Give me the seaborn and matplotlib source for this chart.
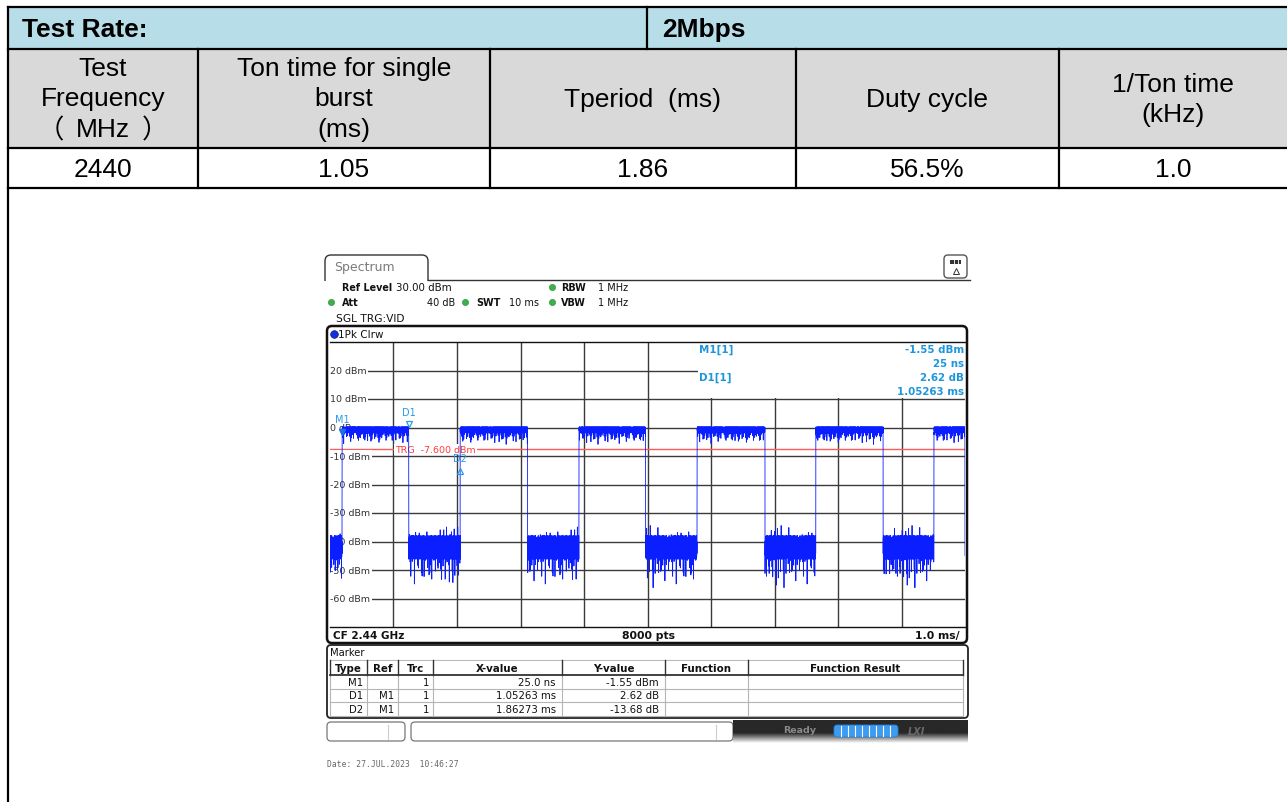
import numpy as np
import pandas as pd
import matplotlib
matplotlib.use("Agg")
import matplotlib.pyplot as plt
from matplotlib.patches import Rectangle, FancyBboxPatch
import seaborn as sns

# ---------------- summary table ----------------
rate_label = "Test Rate:"
rate_value = "2Mbps"
header_lines = [
    ["Test", "Frequency", "（MHz）"],
    ["Ton time for single", "burst", "(ms)"],
    ["Tperiod  (ms)"],
    ["Duty cycle"],
    ["1/Ton time", "(kHz)"],
]
result_cells = ["2440", "1.05", "1.86", "56.5%", "1.0"]

# ---------------- analyzer settings ----------------
ref_level_dbm = 30.0
db_range = 100.0
sweep_ms = 10.0
n_points = 8000
cf_text = "CF 2.44 GHz"
trg_level_dbm = -7.6
trigger_offset_ms = 0.19

# burst edges along the sweep (ms)
burst_on_ms = [0.19, 2.05, 3.92, 5.78, 7.65, 9.51]
burst_off_ms = [1.24, 3.11, 4.97, 6.85, 8.71, 10.0]

# transmit level ripple and dips (dBm / dB)
on_ripple_dbm = [0.3, -0.9, -0.2, -1.6, -0.5, 0.1, -1.2, -0.7, -0.1, -1.9, -0.4, -1.0, 0.2]
on_dip_period = 89
on_dip_index = [4, 17, 29, 44, 58, 71, 83]
on_dip_db = [-2.6, -1.5, -3.4, -2.0, -1.2, -2.9, -4.0]

# idle noise floor (dBm / dB)
off_ripple_dbm = [-38.6, -44.4, -40.5, -45.8, -42.1, -37.9, -43.2, -46.2, -39.8,
                  -44.9, -41.3, -38.4, -45.3, -42.6, -40.1, -44.2, -41.0]
off_spike_period = 97
off_spike_index = [3, 12, 21, 30, 39, 48, 57, 66, 75, 84, 93]
off_spike_db = [-5.0, 3.0, -7.0, 2.5, -4.0, -8.0, 3.5, -6.0, 2.0, -5.5, -10.0]

# markers: M1 absolute, D1/D2 relative to M1
marker_names = ["M1", "D1", "D2"]
marker_ref = ["", "M1", "M1"]
marker_x_ms = [25.0e-6, 1.05263, 1.86273]
marker_y = [-1.55, 2.62, -13.68]

# ---------------- figure ----------------
W, H = 1287, 803
fig = plt.figure(figsize=(W / 100, H / 100), dpi=100)
bg = fig.add_axes([0, 0, 1, 1])
bg.set_xlim(0, W)
bg.set_ylim(H, 0)
bg.axis("off")

TAB_FONT = ["Liberation Sans", "Noto Sans CJK SC"]
CJK_FONT = ["Noto Sans CJK SC"]
SA_FONT = "DejaVu Sans"

# table backgrounds
col_x = [8, 198, 490, 796, 1059, 1287]
row_y = [8, 50, 149, 189]
bg.add_patch(Rectangle((8, 8), W - 8, 42, facecolor="#B7DDE8", edgecolor="none"))
bg.add_patch(Rectangle((8, 50), W - 8, 99, facecolor="#D9D9D9", edgecolor="none"))

lw_tab = 1.6
for y in row_y:
    bg.plot([8, W], [y, y], color="black", lw=lw_tab, solid_capstyle="projecting")
bg.plot([8, 8], [8, H + 5], color="black", lw=lw_tab)
bg.plot([647, 647], [8, 50], color="black", lw=lw_tab)
for x in col_x[1:-1]:
    bg.plot([x, x], [50, 189], color="black", lw=lw_tab)

bg.text(22, 30, rate_label, fontsize=19, fontweight="bold", family=TAB_FONT,
        ha="left", va="center")
bg.text(662, 30, rate_value, fontsize=19, fontweight="bold", family=TAB_FONT,
        ha="left", va="center")


def cell_line(cx, yy, s):
    """Centre one line of a table cell; full-width brackets come from the CJK face."""
    if s.startswith("（") and s.endswith("）"):
        inner = s[1:-1]
        t = bg.text(cx, yy, inner, fontsize=19, family=TAB_FONT, ha="center", va="center")
        fig.canvas.draw()
        half = t.get_window_extent().width / 2
        bg.text(cx - half - 12, yy + 1, s[0], fontsize=19, family=CJK_FONT,
                ha="right", va="center")
        bg.text(cx + half + 12, yy + 1, s[-1], fontsize=19, family=CJK_FONT,
                ha="left", va="center")
    else:
        bg.text(cx, yy, s, fontsize=19, family=TAB_FONT, ha="center", va="center")


line_pos = {1: [100], 2: [85, 115], 3: [69, 99, 130]}
for i, lines in enumerate(header_lines):
    cx = (col_x[i] + col_x[i + 1]) / 2
    for ln, yy in zip(lines, line_pos[len(lines)]):
        cell_line(cx, yy, ln)
for i, val in enumerate(result_cells):
    cx = (col_x[i] + col_x[i + 1]) / 2
    bg.text(cx, 170, val, fontsize=19, family=TAB_FONT, ha="center", va="center")

# ---------------- analyzer window chrome ----------------
# tab
bg.add_patch(FancyBboxPatch((325, 256), 103, 40, boxstyle="round,pad=0,rounding_size=6",
                            facecolor="white", edgecolor="#333333", lw=1.0, zorder=2))
bg.add_patch(Rectangle((322, 281.6), 110, 20, facecolor="white", edgecolor="none", zorder=3))
bg.plot([428, 970], [281, 281], color="#333333", lw=1.0, zorder=4)
bg.text(334, 268, "Spectrum", fontsize=9, family=SA_FONT, color="#7a7a7a",
        ha="left", va="center", zorder=5)

# icon
bg.add_patch(FancyBboxPatch((944, 256), 23, 23, boxstyle="round,pad=0,rounding_size=4",
                            facecolor="white", edgecolor="#555555", lw=1.0, zorder=4))
bg.add_patch(Rectangle((950, 261), 11, 4, facecolor="#333333", edgecolor="none", zorder=5))
for xx in (953.5, 957.5):
    bg.plot([xx, xx], [261, 265], color="white", lw=0.6, zorder=6)
bg.plot([955.5], [272], marker="^", ms=5, mfc="white", mec="#333333", mew=0.7, zorder=6)


def sa_text(x, y, s, bold=False, size=7.0, color="#111111", ha="left", z=5, **kw):
    bg.text(x, y, s, fontsize=size, family=SA_FONT, fontweight="bold" if bold else "normal",
            color=color, ha=ha, va="center", zorder=z, **kw)


def green_dot(x, y):
    bg.plot([x], [y], marker="o", ms=4.5, color="#3cb04a", mec="#2a8a36", mew=0.4, zorder=6)


# settings lines
sa_text(342, 288, "Ref Level", bold=True, size=6.9)
sa_text(396, 288, f"{ref_level_dbm:.2f} dBm", size=7.4)
green_dot(552, 288)
sa_text(561, 288, "RBW", bold=True, size=6.9)
sa_text(598, 288, "1 MHz")
green_dot(331, 303)
sa_text(342, 303, "Att", bold=True, size=6.9)
sa_text(427, 303, "40 dB")
green_dot(465, 303)
sa_text(476, 303, "SWT", bold=True, size=6.9)
sa_text(509, 303, "10 ms")
green_dot(552, 303)
sa_text(561, 303, "VBW", bold=True, size=6.9)
sa_text(598, 303, "1 MHz")
sa_text(336, 319, "SGL TRG:VID", size=7.7)

# diagram frame
bg.add_patch(FancyBboxPatch((327, 327), 640, 317, boxstyle="round,pad=0,rounding_size=5",
                            facecolor="white", edgecolor="#111111", lw=1.8, zorder=1))
bg.plot([333.5], [335], marker="o", ms=5.5, color="#1030e0", mec="#0a1a80", mew=0.5, zorder=6)
sa_text(338, 335, "1Pk Clrw", size=7.5)
sa_text(333, 636, cf_text, bold=True, size=7.5)
sa_text(648, 636, f"{n_points} pts", bold=True, ha="center", size=7.8)
sa_text(960, 636, f"{sweep_ms / 10:.1f} ms/", bold=True, ha="right", size=7.8)

# ---------------- trace axes ----------------
ax = fig.add_axes([330 / W, 1 - 628 / H, 635 / W, 285 / H])
ax.set_facecolor("none")

t = np.linspace(0.0, sweep_ms, n_points)
idx = np.arange(n_points)
on = np.zeros(n_points, dtype=bool)
for a, b in zip(burst_on_ms, burst_off_ms):
    on |= (t >= a) & (t < b)

on_dips = np.zeros(n_points)
for k, v in zip(on_dip_index, on_dip_db):
    on_dips[idx % on_dip_period == k] = v
off_spikes = np.zeros(n_points)
for k, v in zip(off_spike_index, off_spike_db):
    off_spikes[idx % off_spike_period == k] = v

on_level = np.take(on_ripple_dbm, idx % len(on_ripple_dbm)) + on_dips
off_level = np.take(off_ripple_dbm, idx % len(off_ripple_dbm)) + off_spikes
trace = pd.DataFrame({"time_ms": t, "level_dbm": np.where(on, on_level, off_level)})

grid_c = "#3a3a3a"
for k in range(1, 10):
    ax.axvline(k * sweep_ms / 10, color=grid_c, lw=1.0, zorder=1)
for lev in range(-60, 30, 10):
    ax.axhline(lev, color=grid_c, lw=1.0, zorder=1)

# readout area
ax.add_patch(Rectangle(((698 - 330) / 635, (628 - 399) / 285), 1, 1, transform=ax.transAxes,
                       facecolor="white", edgecolor="none", zorder=2))

for lev in range(20, -70, -10):
    ax.text(0.005, lev, f"{lev} dBm", fontsize=6.8, family=SA_FONT, color="#333333",
            ha="left", va="center", zorder=2.5,
            bbox=dict(boxstyle="square,pad=0.15", facecolor="white", edgecolor="none"))

ax.axhline(trg_level_dbm, color="#ff5a5a", lw=1.0, zorder=2.2)
ax.text((395 - 330) / 635 * sweep_ms, trg_level_dbm, f"TRG  {trg_level_dbm:.3f} dBm",
        fontsize=6.8, family=SA_FONT, color="#ff3b3b", ha="left", va="center", zorder=2.6,
        bbox=dict(boxstyle="square,pad=0.1", facecolor="white", edgecolor="none"))

sns.lineplot(data=trace, x="time_ms", y="level_dbm", ax=ax, estimator=None, sort=False,
             color="#0a1eff", lw=0.6, zorder=3, legend=False)

# markers
mk_color = "#2a9ae6"
m1_y = marker_y[0]
mx = [trigger_offset_ms + x for x in marker_x_ms]
my = [m1_y, m1_y + marker_y[1], m1_y + marker_y[2]]
ax.plot([mx[0]], [my[0]], marker="v", ms=5, color="#1f6fe6", zorder=5)
ax.plot([mx[1]], [my[1]], marker="v", ms=4, mfc="none", mec=mk_color, mew=0.9, zorder=5)
ax.plot([mx[2]], [my[2]], marker="^", ms=5, mfc="none", mec=mk_color, mew=0.9, zorder=5)
for name, x, y in zip(marker_names, mx, my):
    ax.annotate(name, (x, y), xytext=(0, 9), textcoords="offset points",
                fontsize=7, family=SA_FONT, color=mk_color, ha="center", va="center",
                zorder=5)

ro_font = dict(fontsize=7.4, family=SA_FONT, color="#1e96dc", fontweight="bold",
               va="center", zorder=5, transform=bg.transData)
ax.text(699, 350, "M1[1]", ha="left", **ro_font)
ax.text(964, 350, f"{marker_y[0]:.2f} dBm", ha="right", **ro_font)
ax.text(964, 364, f"{marker_x_ms[0] * 1e6:.0f} ns", ha="right", **ro_font)
ax.text(699, 378, "D1[1]", ha="left", **ro_font)
ax.text(964, 378, f"{marker_y[1]:.2f} dB", ha="right", **ro_font)
ax.text(964, 392, f"{marker_x_ms[1]:.5f} ms", ha="right", **ro_font)

ax.set_xlim(0, sweep_ms)
ax.set_ylim(ref_level_dbm - db_range, ref_level_dbm)
ax.set_xticks([])
ax.set_yticks([])
ax.set_xlabel("")
ax.set_ylabel("")
for side in ("left", "right"):
    ax.spines[side].set_visible(False)
for side in ("top", "bottom"):
    ax.spines[side].set_color("#111111")
    ax.spines[side].set_linewidth(1.0)

# ---------------- marker table ----------------
bg.add_patch(FancyBboxPatch((327, 646), 641, 73, boxstyle="round,pad=0,rounding_size=4",
                            facecolor="white", edgecolor="#222222", lw=1.3, zorder=1))
sa_text(330, 653, "Marker", size=7.2)
tcols = [330, 367, 398, 433, 562, 665, 748, 963]
heads = ["Type", "Ref", "Trc", "X-value", "Y-value", "Function", "Function Result"]
bg.plot([330, 963], [661, 661], color="#bbbbbb", lw=0.8, zorder=3)
bg.plot([330, 963], [676, 676], color="#222222", lw=1.2, zorder=4)
for yy in (689.5, 703, 716.5):
    bg.plot([330, 963], [yy, yy], color="#b5b5b5", lw=0.8, zorder=3)
for x in tcols:
    bg.plot([x, x], [661, 676], color="#333333", lw=1.0, zorder=4)
    bg.plot([x, x], [676, 716.5], color="#b5b5b5", lw=0.8, zorder=3)
for i, h in enumerate(heads):
    sa_text((tcols[i] + tcols[i + 1]) / 2, 669, h, bold=True, ha="center", size=7.4)

x_texts = [f"{marker_x_ms[0] * 1e6:.1f} ns", f"{marker_x_ms[1]:.5f} ms", f"{marker_x_ms[2]:.5f} ms"]
y_texts = [f"{marker_y[0]:.2f} dBm", f"{marker_y[1]:.2f} dB", f"{marker_y[2]:.2f} dB"]
for r, yy in enumerate((683, 696.5, 710)):
    sa_text(tcols[1] - 4, yy, marker_names[r], ha="right", size=7.3)
    sa_text(tcols[2] - 4, yy, marker_ref[r], ha="right", size=7.3)
    sa_text(tcols[3] - 4, yy, "1", ha="right", size=7.3)
    sa_text(tcols[4] - 6, yy, x_texts[r], ha="right", size=7.3)
    sa_text(tcols[5] - 6, yy, y_texts[r], ha="right", size=7.3)

# ---------------- status bar ----------------
bg.add_patch(FancyBboxPatch((327, 723), 78, 19, boxstyle="round,pad=0,rounding_size=4",
                            facecolor="white", edgecolor="#777777", lw=0.9, zorder=2))
bg.add_patch(FancyBboxPatch((411, 723), 322, 19, boxstyle="round,pad=0,rounding_size=4",
                            facecolor="white", edgecolor="#777777", lw=0.9, zorder=2))
bg.plot([388, 388], [726, 740], color="#cccccc", lw=0.8, zorder=3)
bg.plot([716, 716], [726, 740], color="#cccccc", lw=0.8, zorder=3)
shade = np.concatenate([np.full(22, 0.16), np.linspace(0.16, 0.98, 18)])
grad = shade[:, None] * np.ones((1, 4))
bg.imshow(grad, extent=(733, 968, 744, 721), cmap="gray", vmin=0, vmax=1,
          aspect="auto", interpolation="bilinear", zorder=2)
bg.set_xlim(0, W)
bg.set_ylim(H, 0)
sa_text(783, 731, "Ready", bold=True, color="#8a8a8a", size=6.8)
bg.add_patch(FancyBboxPatch((834, 726), 64, 12, boxstyle="round,pad=0,rounding_size=3",
                            facecolor="#3d9bf0", edgecolor="#2a7fd0", lw=0.6, zorder=3))
for xx in np.arange(841, 896, 7):
    bg.plot([xx, xx], [727, 737], color="white", lw=0.8, zorder=4)
bg.text(916, 732, "LXI", fontsize=7, family=SA_FONT, fontweight="bold", style="italic",
        color="#6a6a6a", ha="center", va="center", zorder=4)

bg.text(327, 765, "Date: 27.JUL.2023  10:46:27", fontsize=5.8, family="DejaVu Sans Mono",
        color="#666666", ha="left", va="center")

fig.savefig("out.png", dpi=100)
